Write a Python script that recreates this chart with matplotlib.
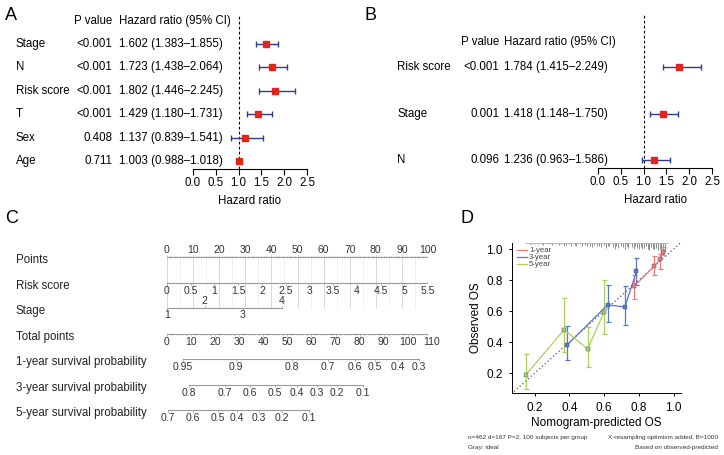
import matplotlib.pyplot as plt
import numpy as np
from matplotlib.transforms import blended_transform_factory as blend

plt.rcParams['font.family'] = ['Liberation Sans', 'DejaVu Sans']

# ---- panel A: univariate Cox ----
a_labels = ['Stage', 'N', 'Risk score', 'T', 'Sex', 'Age']
a_pvals = ['<0.001', '<0.001', '<0.001', '<0.001', '0.408', '0.711']
a_hr = [1.602, 1.723, 1.802, 1.429, 1.137, 1.003]
a_lo = [1.383, 1.438, 1.446, 1.180, 0.839, 0.988]
a_hi = [1.855, 2.064, 2.245, 1.731, 1.541, 1.018]

# ---- panel B: multivariate Cox ----
b_labels = ['Risk score', 'Stage', 'N']
b_pvals = ['<0.001', '0.001', '0.096']
b_hr = [1.784, 1.418, 1.236]
b_lo = [1.415, 1.148, 0.963]
b_hi = [2.249, 1.750, 1.586]

# ---- panel C: nomogram ----
nomo_rows = ['Points', 'Risk score', 'Stage', 'Total points',
             '1-year survival probability', '3-year survival probability',
             '5-year survival probability']
risk_ticks = [0, 0.5, 1, 1.5, 2, 2.5, 3, 3.5, 4, 4.5, 5, 5.5]
stage_levels = ['1', '2', '3', '4']
stage_points = [0, 14.5, 29, 44]
total_ticks = [0, 10, 20, 30, 40, 50, 60, 70, 80, 90, 100, 110]
surv1_labels = ['0.95', '0.9', '0.8', '0.7', '0.6', '0.5', '0.4', '0.3']
surv1_total = [6.6, 28.6, 51.9, 66.8, 78.0, 86.3, 95.9, 104.6]
surv3_labels = ['0.8', '0.7', '0.6', '0.5', '0.4', '0.3', '0.2', '0.1']
surv3_total = [9.1, 24.1, 34.4, 44.8, 53.9, 62.2, 70.5, 81.3]
surv5_labels = ['0.7', '0.6', '0.5', '0.4', '0.3', '0.2', '0.1']
surv5_total = [0.4, 10.8, 21.2, 29.0, 38.2, 47.7, 58.9]

# ---- panel D: calibration ----
pred_1y = [0.774, 0.888, 0.924, 0.940]
obs_1y = [0.760, 0.890, 0.933, 0.980]
lo_1y = [0.675, 0.830, 0.870, 0.960]
hi_1y = [0.830, 0.953, 0.970, 1.010]
pred_3y = [0.386, 0.620, 0.720, 0.786]
obs_3y = [0.380, 0.640, 0.626, 0.856]
lo_3y = [0.284, 0.530, 0.510, 0.770]
hi_3y = [0.503, 0.770, 0.760, 0.945]
pred_5y = [0.150, 0.370, 0.505, 0.600]
obs_5y = [0.190, 0.480, 0.355, 0.595]
lo_5y = [0.100, 0.335, 0.240, 0.450]
hi_5y = [0.320, 0.685, 0.500, 0.800]
rug_x = [0.17, 0.18, 0.20, 0.22, 0.24, 0.25, 0.27, 0.29, 0.30, 0.32, 0.34, 0.35,
         0.37, 0.38, 0.40, 0.41, 0.43, 0.44, 0.46, 0.47, 0.49, 0.50, 0.52, 0.53,
         0.54, 0.56, 0.57, 0.58, 0.60, 0.61, 0.62, 0.63, 0.65, 0.66, 0.67, 0.68,
         0.70, 0.71, 0.72, 0.73, 0.74, 0.76, 0.77, 0.78, 0.79, 0.80, 0.81, 0.82,
         0.83, 0.84, 0.85, 0.86, 0.87, 0.88, 0.89, 0.90, 0.91, 0.92, 0.93, 0.94,
         0.95]
rug_n = [1, 2, 1, 2, 1, 3, 2, 1, 3, 2, 3, 2, 4, 3, 2, 4, 3, 5, 2, 4, 3, 5, 4, 6,
         3, 5, 4, 6, 3, 7, 5, 4, 6, 8, 5, 7, 4, 6, 8, 5, 7, 6, 9, 5, 7, 8, 6, 9,
         7, 5, 8, 10, 6, 8, 9, 7, 10, 8, 11, 9, 13]

W, H = 724, 455
fig = plt.figure(figsize=(W / 100, H / 100), dpi=100)
FS = 8.3


def box(x0, y0, x1, y1):
    # pixel box (top-left origin) -> figure fraction
    return [x0 / W, 1 - y1 / H, (x1 - x0) / W, (y1 - y0) / H]


def forest(pos, ylim, rows, head_y, labels, pvals, hr, lo, hi, lab_x, p_x, hr_x):
    ax = fig.add_axes(pos)
    ax.set_xlim(0, 2.5)
    ax.set_ylim(*ylim)
    for s in ['top', 'right', 'left']:
        ax.spines[s].set_visible(False)
    ax.spines['bottom'].set_linewidth(0.8)
    ax.set_yticks([])
    ticks = np.arange(0, 2.51, 0.5)
    ax.set_xticks(ticks)
    ax.set_xticklabels(['%.1f' % t for t in ticks])
    ax.tick_params(axis='x', labelsize=FS, length=4, width=0.8, pad=2)
    ax.set_xlabel('Hazard ratio', fontsize=FS, labelpad=4)
    ax.axvline(1, color='black', ls=(0, (2.5, 2)), lw=0.8)
    hr, lo, hi = np.array(hr), np.array(lo), np.array(hi)
    ax.errorbar(hr, rows, xerr=[hr - lo, hi - hr], fmt='none', ecolor='#2f3d8e',
                elinewidth=1, capsize=2.5, capthick=1)
    ax.plot(hr, rows, 's', color='#e3241b', ms=5, zorder=3)
    tr = blend(fig.transFigure, ax.transData)
    ax.text(p_x / W, head_y, 'P value', transform=tr, ha='right', va='center', fontsize=FS)
    ax.text(hr_x / W, head_y, 'Hazard ratio (95% CI)', transform=tr, ha='left',
            va='center', fontsize=FS)
    for y, lab, p, h, l, u in zip(rows, labels, pvals, hr, lo, hi):
        ax.text(lab_x / W, y, lab, transform=tr, ha='left', va='center', fontsize=FS)
        ax.text(p_x / W, y, p, transform=tr, ha='right', va='center', fontsize=FS)
        ax.text(hr_x / W, y, '%.3f (%.3f\u2013%.3f)' % (h, l, u), transform=tr,
                ha='left', va='center', fontsize=FS)
    return ax


forest(box(193, 15, 307, 169), (0.66, 7.24), np.arange(6, 0, -1), 7.0,
       a_labels, a_pvals, a_hr, a_lo, a_hi, 16, 112, 119)
forest(box(598, 15, 712, 168), (0.83, 4.12), np.arange(3, 0, -1), 3.54,
       b_labels, b_pvals, b_hr, b_lo, b_hi, 397, 499, 504)

# ---- nomogram ----
axc = fig.add_axes(box(167, 240, 428, 430))
axc.set_xlim(0, 100)
axc.set_ylim(6.784, -0.667)
axc.axis('off')
tot2pts = 101.5 / 110
lc = '#9a9a9a'
tc = '#333333'
tfs = 7.5
trc = blend(fig.transFigure, axc.transData)
for r, name in enumerate(nomo_rows):
    axc.text(16 / W, r + 0.12, name, transform=trc, ha='left', va='center',
             fontsize=FS, color='#222222')

# grid
for p in np.arange(0, 101, 5):
    axc.plot([p, p], [0, 2.0], color='#d4d4d4' if p % 10 == 0 else '#eeeeee',
             lw=0.6, zorder=0)

# points
axc.plot([0, 100], [0, 0], color=lc, lw=0.8)
for p in range(0, 101):
    ln = 0.09 if p % 10 == 0 else 0.04
    axc.plot([p, p], [0, -ln], color=lc, lw=0.4)
for p in range(0, 101, 10):
    axc.text(p, -0.27, str(p), ha='center', va='center', fontsize=tfs, color=tc)

# risk score
rs = np.array(risk_ticks) / 5.5 * 100
axc.plot([rs[0], rs[-1]], [1, 1], color=lc, lw=0.8)
for x, v in zip(rs, risk_ticks):
    axc.plot([x, x], [1, 1.08], color=lc, lw=0.5)
    axc.text(x, 1.32, '%g' % v, ha='center', va='center', fontsize=tfs, color=tc)

# stage
axc.plot([stage_points[0], stage_points[-1]], [2, 2], color=lc, lw=0.8)
for i, (x, v) in enumerate(zip(stage_points, stage_levels)):
    up = i % 2 == 1
    axc.plot([x, x], [2, 1.93 if up else 2.07], color=lc, lw=0.5)
    axc.text(x, 1.74 if up else 2.28, v, ha='center', va='center', fontsize=tfs, color=tc)

# total points
tp = np.array(total_ticks) * tot2pts
axc.plot([tp[0], tp[-1]], [3, 3], color=lc, lw=0.8)
for t in range(0, 111, 2):
    axc.plot([t * tot2pts] * 2, [3, 3.05 if t % 10 else 3.09], color=lc, lw=0.4)
for x, v in zip(tp, total_ticks):
    axc.text(x, 3.32, str(v), ha='center', va='center', fontsize=tfs, color=tc)

# survival probabilities
for r, labs, pos in [(4, surv1_labels, surv1_total), (5, surv3_labels, surv3_total),
                     (6, surv5_labels, surv5_total)]:
    xs = np.array(pos) * tot2pts
    axc.plot([xs[0], xs[-1]], [r, r], color=lc, lw=0.8)
    for x, v in zip(xs, labs):
        axc.plot([x, x], [r, r + 0.08], color=lc, lw=0.5)
        axc.text(x, r + 0.32, v, ha='center', va='center', fontsize=tfs, color=tc)

# ---- calibration ----
axd = fig.add_axes(box(512, 243, 681, 393))
axd.set_xlim(0.069, 1.043)
axd.set_ylim(0.071, 1.039)
for s in ['top', 'right']:
    axd.spines[s].set_visible(False)
for s in ['left', 'bottom']:
    axd.spines[s].set_linewidth(0.7)
dt = np.arange(0.2, 1.01, 0.2)
axd.set_xticks(dt)
axd.set_yticks(dt)
axd.set_xticklabels(['%.1f' % t for t in dt])
axd.set_yticklabels(['%.1f' % t for t in dt])
axd.tick_params(labelsize=8.5, length=2.5, width=0.7, pad=4)
axd.set_xlabel('Nomogram-predicted OS', fontsize=8.5, labelpad=2)
axd.set_ylabel('Observed OS', fontsize=8.5, labelpad=3)
axd.plot([0, 1.1], [0, 1.1], color='#4a5678', ls=(0, (1, 2)), lw=0.9, zorder=1)
ytop = 1.039
axd.vlines(rug_x, ytop - np.array(rug_n) * 0.0045, ytop, color='#8c8c8c', lw=0.7,
           clip_on=False)
axd.plot([0.15, 0.97], [ytop, ytop], color='#b0b0b0', lw=0.6, clip_on=False)
series = [
    ('1-year', '#f07a72', pred_1y, obs_1y, lo_1y, hi_1y),
    ('3-year', '#5677c8', pred_3y, obs_3y, lo_3y, hi_3y),
    ('5-year', '#a9d05c', pred_5y, obs_5y, lo_5y, hi_5y),
]
for i, (name, col, px, oy, lo, hi) in enumerate(series):
    oy, lo, hi = np.array(oy), np.array(lo), np.array(hi)
    axd.errorbar(px, oy, yerr=[oy - lo, hi - oy], fmt='none', ecolor=col,
                 elinewidth=0.9, capsize=1.8, capthick=0.9, zorder=2)
    axd.plot(px, oy, '-', color=col, lw=0.9, zorder=3)
    axd.plot(px, oy, 's', color=col, mec='#3a4a90', mew=0.3, ms=2.2, zorder=4)
    ly = 0.953 - i * 0.047
    axd.plot([0.03, 0.09], [ly, ly], color=col, lw=0.9, transform=axd.transAxes,
             clip_on=False)
    axd.text(0.10, ly, name, transform=axd.transAxes, fontsize=5.6, va='center',
             color='#444444')

nfs = 4.6
fig.text(468 / W, 1 - 438 / H, 'n=462 d=167 P=2, 100 subjects per group',
         fontsize=nfs, va='center', ha='left', color='#333333')
fig.text(718 / W, 1 - 438 / H, 'X-resampling optimism added, B=1000',
         fontsize=nfs, va='center', ha='right', color='#333333')
fig.text(468 / W, 1 - 447 / H, 'Gray: ideal', fontsize=nfs, va='center', ha='left',
         color='#333333')
fig.text(718 / W, 1 - 447 / H, 'Based on observed-predicted', fontsize=nfs,
         va='center', ha='right', color='#333333')

# panel letters
for lab, x, y in [('A', 5, 15), ('B', 365, 15), ('C', 5, 218), ('D', 461, 218)]:
    fig.text(x / W, 1 - y / H, lab, fontsize=13, va='center', ha='left')

fig.savefig('out.png', dpi=100)
